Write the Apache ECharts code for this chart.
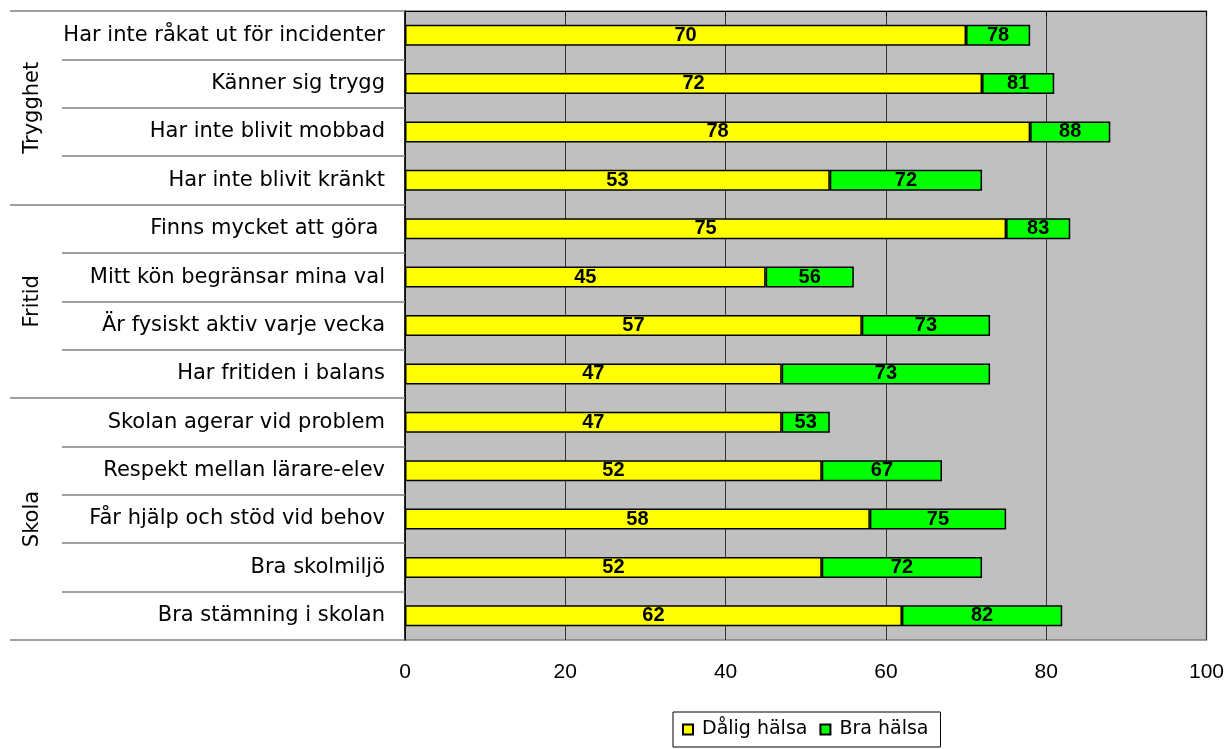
<!DOCTYPE html>
<html><head><meta charset="utf-8">
<script src="https://cdn.jsdelivr.net/npm/echarts@6/dist/echarts.min.js"></script>
<style>html,body{margin:0;padding:0;background:#fff}#c{width:1227px;height:749px}</style>
</head><body><div id="c"></div>
<script>
const categories = ["Har inte råkat ut för incidenter","Känner sig trygg","Har inte blivit mobbad","Har inte blivit kränkt","Finns mycket att göra ","Mitt kön begränsar mina val","Är fysiskt aktiv varje vecka","Har fritiden i balans","Skolan agerar vid problem","Respekt mellan lärare-elev","Får hjälp och stöd vid behov","Bra skolmiljö","Bra stämning i skolan"];
const daligHalsa = [70,72,78,53,75,45,57,47,47,52,58,52,62];
const braHalsa = [78,81,88,72,83,56,73,73,53,67,75,72,82];
const groupNames = ["Trygghet","Fritid","Skola"];
const groupSizes = [4,4,5];
const xTicks = [0,20,40,60,80,100];

const FONT = "'Liberation Sans', Arial, sans-serif";
const WIDE = "'DejaVu Sans', sans-serif";
const bounds = [0]; const mids = [];
groupSizes.forEach((s,i)=>{ mids.push(bounds[i] + s/2); bounds.push(bounds[i]+s); });
const total = bounds[bounds.length-1];

const chart = echarts.init(document.getElementById('c'));
chart.setOption({
  animation:false,
  textStyle:{fontFamily:FONT},
  grid:{left:405,right:20,top:11,bottom:109,show:true,backgroundColor:'#c0c0c0',borderColor:'#808080',borderWidth:1.5},
  legend:{left:673,top:712,itemWidth:10,itemHeight:10,itemGap:12,icon:'rect',borderColor:'#000',borderWidth:1,padding:[8,12,8,9],
    textStyle:{fontFamily:WIDE,fontSize:19,color:'#000',padding:[0,0,0,4]},
    data:['Dålig hälsa','Bra hälsa']},
  xAxis:{type:'value',min:xTicks[0],max:xTicks[xTicks.length-1],interval:xTicks[1]-xTicks[0],
    axisLine:{show:true,lineStyle:{color:'#000',width:1.2}},
    axisTick:{show:true,length:5,lineStyle:{color:'#000'}},
    axisLabel:{fontSize:21,color:'#000',margin:22,fontFamily:FONT},
    splitLine:{show:true,lineStyle:{color:'#333',width:1}}},
  yAxis:[{type:'category',data:categories,inverse:true,
    axisLine:{show:true,lineStyle:{color:'#000',width:1.5}},
    axisTick:{show:true,length:343,lineStyle:{color:'#808080',width:1.5}},
    axisLabel:{fontSize:21,color:'#000',margin:20,fontFamily:WIDE}},
   {type:'value',min:0,max:total,inverse:true,position:'left',
    axisLine:{show:false},splitLine:{show:false},
    axisTick:{show:true,customValues:bounds,length:395,lineStyle:{color:'#808080',width:1.5}},
    axisLabel:{show:true,customValues:mids,rotate:90,margin:362,fontSize:21,color:'#000',fontFamily:WIDE,
      formatter:(v)=>{const i=mids.indexOf(v);return i>=0?groupNames[i]:'';}}}],
  series:[
   {name:'Dålig hälsa',type:'bar',stack:'a',yAxisIndex:0,barWidth:21,data:daligHalsa,
    itemStyle:{color:'#ffff00',borderColor:'#000',borderWidth:1.5},
    label:{show:true,position:'inside',fontSize:20,fontWeight:'bold',color:'#000',fontFamily:FONT}},
   {name:'Bra hälsa',type:'bar',stack:'a',yAxisIndex:0,barWidth:21,data:braHalsa.map((v,i)=>v-daligHalsa[i]),
    itemStyle:{color:'#00ff00',borderColor:'#000',borderWidth:1.5},
    label:{show:true,position:'inside',fontSize:20,fontWeight:'bold',color:'#000',fontFamily:FONT,
      formatter:(p)=>String(braHalsa[p.dataIndex])}}
  ]
});
</script></body></html>
